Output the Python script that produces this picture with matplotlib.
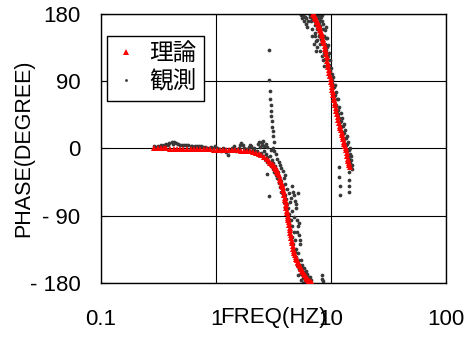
import matplotlib
matplotlib.use("Agg")
import matplotlib.pyplot as plt
import numpy as np

plt.rcParams['font.family'] = ['Liberation Sans', 'Noto Sans CJK JP', 'DejaVu Sans']

# ---- data ----
# theoretical curve: flat part, roll-off to -180, then the wrapped branch from +180
theory_freq = [0.29, 0.31, 0.33, 0.35, 0.37, 0.40, 0.43, 0.46, 0.49, 0.52, 0.56, 0.60, 0.64, 0.68,
               0.73, 0.78, 0.83, 0.89, 0.95, 1.01, 1.08, 1.15, 1.22, 1.30, 1.38, 1.47, 1.56, 1.66,
               1.76, 1.87, 1.98, 2.10, 2.22, 2.35, 2.48, 2.62, 2.76,
               2.90, 2.97, 3.04, 3.10, 3.17, 3.23, 3.30, 3.36, 3.42, 3.47, 3.52, 3.57, 3.62, 3.67,
               3.72, 3.76, 3.80, 3.84, 3.88, 3.92, 3.95, 3.99, 4.02, 4.05, 4.09, 4.12, 4.16, 4.19,
               4.22, 4.25, 4.29, 4.32, 4.36, 4.40, 4.44, 4.48, 4.52, 4.56, 4.61, 4.65, 4.70, 4.75,
               4.80, 4.86, 4.92, 4.98, 5.05, 5.12, 5.20, 5.28, 5.36, 5.44, 5.52, 5.61, 5.70, 5.80,
               5.90, 6.01, 6.12, 6.23, 6.35, 6.47, 6.60, 6.72, 6.85,
               7.0, 7.1, 7.2, 7.3, 7.4, 7.5, 7.6, 7.7, 7.8, 7.9, 8.0, 8.1, 8.2, 8.3, 8.4, 8.5,
               8.6, 8.7, 8.8, 8.9, 9.0, 9.1, 9.2, 9.3, 9.4, 9.5, 9.6, 9.7, 9.8, 9.9, 10.0, 10.1,
               10.2, 10.3, 10.4, 10.5, 10.6, 10.7, 10.8, 10.9, 11.0, 11.15, 11.3, 11.45, 11.6,
               11.75, 11.9, 12.05, 12.2, 12.35, 12.5, 12.65, 12.8, 12.95, 13.1, 13.25, 13.4,
               13.55, 13.7, 13.85, 14.0, 14.15, 14.3, 14.4, 14.5]
theory_phase = [0, 0, 0, 0, 0, -1, -1, -1, -1, -1, -1, -1, -1, -1,
                -1, -1, -1, -1, -2, -2, -2, -2, -2, -2, -2, -2, -2, -3,
                -3, -3, -4, -5, -6, -7, -9, -11, -14,
                -17, -19, -21, -22.5, -24, -26, -28, -29.5, -31, -33.5, -36, -39, -42, -45,
                -48, -50, -52, -55.5, -59, -62.5, -66, -69, -72, -76, -80, -83.5, -87, -90,
                -93, -96, -99, -102.5, -106, -109.5, -113, -116.5, -120, -123.5, -127, -130.5, -134, -137,
                -140, -142.5, -145, -147.5, -150, -152, -154, -156, -158, -160, -162, -164, -166, -168,
                -170, -171.5, -173, -174.5, -176, -177, -178, -179, -180,
                180, 178.5, 177, 175, 173, 171, 169, 167, 165, 163, 161, 158.5, 156, 153, 150, 147,
                144, 140.5, 137, 133.5, 130, 126, 122, 117.5, 113, 109, 105, 101, 97, 93, 89, 85.5,
                82, 78.5, 75, 71.5, 68, 64.5, 61, 57.5, 54, 50, 46, 42, 38,
                34, 30, 27, 24, 21, 18, 15, 12, 9, 6, 3.5, 1,
                -2.5, -6, -10, -14, -17, -20, -22.5, -25]

# measured points: flat part, roll-off, stray points, wrapped branch
obs_freq_low = [0.29, 0.30, 0.31, 0.32, 0.33, 0.34, 0.35, 0.36, 0.37, 0.38, 0.39, 0.41, 0.42, 0.43,
                0.45, 0.47, 0.49, 0.51, 0.53, 0.55, 0.57, 0.60, 0.62, 0.65, 0.68, 0.71, 0.74, 0.77,
                0.80, 0.83, 0.86, 0.90, 0.94, 0.98, 1.02, 1.06, 1.10, 1.14, 1.18, 1.22, 1.26, 1.30,
                1.34, 1.38, 1.42, 1.46, 1.50, 1.54, 1.58, 1.62, 1.66, 1.70, 1.74, 1.78, 1.82, 1.86,
                1.90, 1.94, 1.98, 2.02, 2.06, 2.10, 2.14, 2.18]
obs_phase_low = [3, 2, 3, 2, 4, 3, 4, 5, 6, 5, 7, 8, 6, 8,
                 7, 6, 5, 5, 4, 4, 4, 3, 3, 3, 3, 3, 3, 2,
                 2, 1, 1, 2, 1, 3, 1, -1, -3, 0, -2, -5, -9, -4,
                 -2, 1, 3, -1, -4, -2, 1, 5, 7, 4, 0, -2, -1, -2,
                 -1, 2, 5, 3, -3, -1, 0, -4]

obs_freq_drop = [2.25, 2.30, 2.35, 2.40, 2.45, 2.50, 2.55, 2.60, 2.65, 2.70, 2.75, 2.80, 2.90, 2.95,
                 3.00, 3.05, 3.10, 3.15, 3.20, 3.25, 3.30, 3.35, 3.40, 3.45, 3.50, 3.55, 3.60, 3.65,
                 3.70, 3.75, 3.80, 3.85, 3.90, 3.95, 4.00, 4.05, 4.10, 4.15, 4.20, 4.25, 4.30, 4.35,
                 4.40, 4.50, 4.55, 4.60, 4.70, 4.75, 4.85, 4.90, 5.00, 5.10, 5.20, 5.30, 5.40, 5.50,
                 5.60, 5.70, 5.80, 5.90, 6.00, 6.20, 6.40, 6.60, 4.6, 4.8, 5.0, 5.2, 5.3, 5.1, 5.35,
                 8.3, 8.4, 8.45,
                 3.9, 4.0, 4.1, 4.3, 4.5, 4.7, 4.9, 5.0, 4.4, 4.6, 4.8, 5.1, 5.2, 5.3, 5.4, 4.95,
                 5.15, 5.5, 5.6, 5.8, 6.0, 6.2, 6.4, 6.6, 6.7, 5.2, 5.45, 5.7, 3.3, 3.4, 3.5, 3.6,
                 3.7, 3.2, 3.1, 3.0, 2.6, 2.7, 2.8, 2.55, 2.5, 3.8, 4.0]
obs_phase_drop = [-3, 6, 9, 2, -6, 4, -10, -4, -14, -8, -18, -12, -20, -10,
                  -24, -16, -28, -20, -32, -24, -36, -28, -40, -32, -46, -38, -52, -44,
                  -58, -50, -64, -56, -72, -62, -80, -68, -86, -74, -94, -80, -102, -88,
                  -110, -96, -118, -104, -128, -112, -138, -122, -146, -156, -150, -162, -156, -168,
                  -160, -174, -166, -178, -170, -176, -172, -179, -50, -62, -74, -60, -100, -112, -122,
                  -170, -175, -178,
                  -40, -48, -54, -60, -66, -58, -70, -80, -72, -84, -92, -96, -104, -116, -128, -134,
                  -140, -150, -156, -160, -164, -168, -176, -172, -176, -170, -176, -180, -8, -14, -18, -22,
                  -26, -4, 0, -2, 3, 6, 2, 10, 8, -30, -36]

obs_freq_stray = [2.88, 2.90, 2.92, 2.95, 2.98, 3.00, 3.03, 3.06, 3.09, 3.12, 3.15, 3.18, 2.88, 2.77,
                  11.8, 11.85, 11.9, 11.95, 14.2, 14.25, 14.3, 14.35]
obs_phase_stray = [131, 91, 77, 66, 58, 50, 43, 36, 29, 23, 16, 9, -64, -34,
                   -25, -38, -51, -62, -31, -42, -50, -58]

obs_freq_wrap = [5.5, 5.6, 5.7, 5.8, 5.9, 6.0, 6.1, 6.2, 6.3,
                 6.6, 6.7, 6.8, 6.9, 7.0, 7.1, 7.2, 7.3, 7.4, 7.5, 7.6,
                 8.3, 8.4, 8.5, 8.6, 8.7, 8.8, 8.9, 9.0, 9.1, 9.2, 9.3, 9.4, 9.5, 9.6, 9.7, 9.8, 9.9,
                 10.0, 10.1, 10.2, 10.3, 10.5, 10.6, 10.8, 10.9, 11.0, 11.2, 11.4, 11.5, 11.7, 11.9,
                 12.1, 12.3, 12.5, 12.7, 12.9, 13.1, 13.3, 13.5, 13.7, 13.9, 14.1, 14.3, 14.5, 14.7,
                 14.9, 15.1,
                 7.7, 7.8, 7.9, 8.0, 8.1, 8.2, 8.0, 8.2, 8.5, 8.7, 8.9, 9.0, 9.2, 9.3, 9.5, 9.6,
                 9.7, 9.8, 10.0, 10.1, 10.3, 10.4, 10.6, 10.7, 10.9, 11.1, 11.2, 11.4, 11.6, 11.8,
                 12.0, 12.2, 12.4, 12.6, 12.8, 13.0, 13.2, 13.4, 13.6, 13.8, 14.0, 14.2, 14.4, 14.6,
                 14.8, 15.0, 15.2, 7.0, 7.3, 7.6, 6.8, 6.5, 7.2, 7.4, 7.6, 7.8, 8.0, 8.1, 8.3, 8.5, 8.7]
obs_phase_wrap = [179, 174, 178, 170, 176, 166, 174, 162, 170,
                  178, 170, 160, 150, 172, 140, 165, 155, 130, 160, 145,
                  178, 170, 160, 166, 150, 158, 140, 162, 132, 148, 120, 138, 110, 128, 100, 118, 92,
                  108, 85, 100, 80, 95, 70, 85, 60, 76, 50, 66, 42, 56, 35,
                  48, 28, 40, 20, 32, 12, 24, 4, 16, -4, 8, -14, 0, -20,
                  -10, -28,
                  175, 168, 178, 172, 164, 176, 155, 146, 140, 128, 120, 148, 112, 136, 124, 96,
                  112, 104, 96, 92, 88, 70, 82, 64, 72, 58, 66, 52, 46, 40,
                  30, 36, 22, 30, 14, 20, 6, 14, -2, 6, -10, -2, -18, -8,
                  -24, -16, -22, 178, 170, 178, 174, 176, 150, 144, 136, 150, 140, 130, 124, 118, 110]

obs_freq = obs_freq_low + obs_freq_drop + obs_freq_stray + obs_freq_wrap
obs_phase = obs_phase_low + obs_phase_drop + obs_phase_stray + obs_phase_wrap

x_ticks = [0.1, 1, 10, 100]
x_labels = ["0.1", "1", "10", "100"]
y_ticks = [-180, -90, 0, 90, 180]
y_labels = ["- 180", "- 90", "0", "90", "180"]

# ---- plot ----
fig = plt.figure(figsize=(4.66, 3.38), dpi=100)
ax = fig.add_axes([0.217, 0.163, 0.74, 0.796])

ax.plot(theory_freq, theory_phase, linestyle="none", marker="^", markersize=5,
        color="#ff0000", markeredgewidth=0, label="理論", zorder=3)
ax.plot(obs_freq, obs_phase, linestyle="none", marker="o", markersize=2.7,
        color="#383838", markeredgewidth=0, label="観測", zorder=2)

ax.set_xscale("log")
ax.set_xlim(0.1, 100)
ax.set_ylim(-180, 180)
ax.set_xticks(x_ticks)
ax.set_xticklabels(x_labels)
ax.minorticks_off()
ax.set_yticks(y_ticks)
ax.set_yticklabels(y_labels)
ax.grid(True, color="black", linewidth=0.8)
ax.set_axisbelow(True)
for s in ax.spines.values():
    s.set_color("black")
    s.set_linewidth(1.0)

ax.tick_params(axis="x", length=0, pad=19, labelsize=16)
ax.tick_params(axis="y", direction="in", length=5, pad=15, labelsize=16)

ax.set_ylabel("PHASE(DEGREE)", fontsize=15.5)
ax.yaxis.set_label_coords(-0.195, 0.5)
ax.set_xlabel("FREQ(HZ)", fontsize=16, va="center")
ax.xaxis.set_label_coords(0.5, -0.128)

leg = ax.legend(loc="upper left", bbox_to_anchor=(0.017, 0.918), fontsize=17,
                frameon=True, fancybox=False, edgecolor="black", framealpha=1,
                borderaxespad=0, handlelength=1.0, handletextpad=0.5,
                labelspacing=0.25, borderpad=0.3, markerscale=0.75)
leg.get_frame().set_linewidth(1.0)

fig.savefig("out.png", dpi=100)
